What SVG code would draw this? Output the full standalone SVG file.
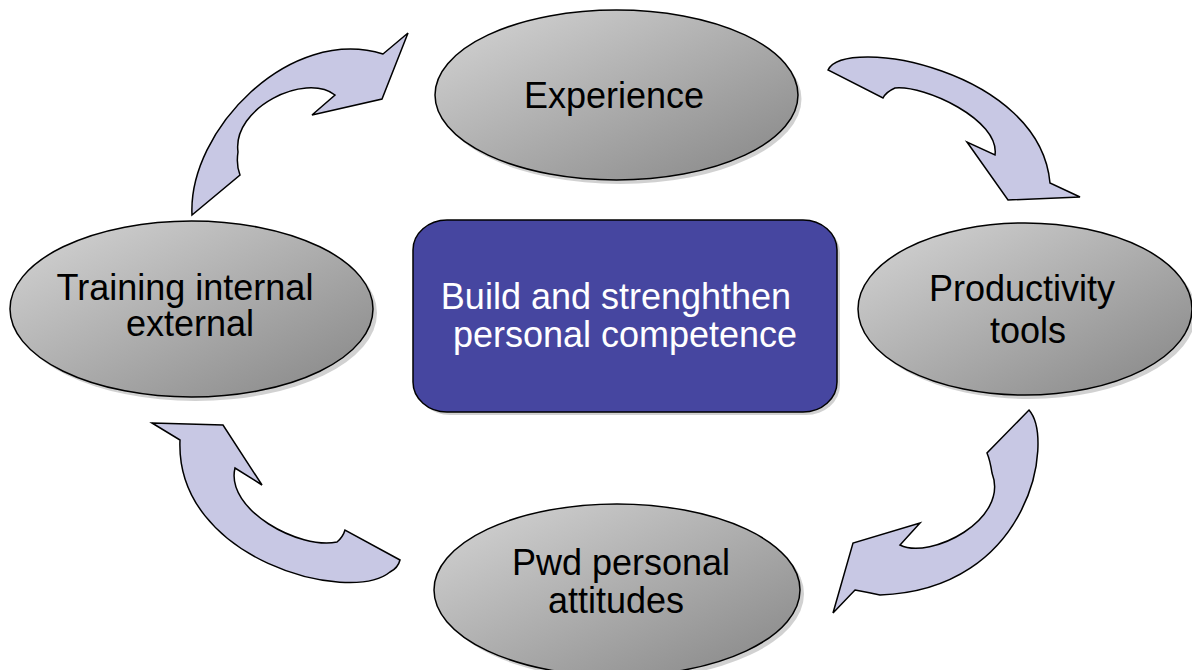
<svg xmlns="http://www.w3.org/2000/svg" width="1192" height="670" viewBox="0 0 1192 670">
<style>
.ell{fill:url(#g);stroke:#000;stroke-width:1.5}
.sh{fill:#9a9a9a;opacity:0.45}
.arr{fill:#c8c8e4;stroke:#000;stroke-width:1.5;stroke-linejoin:miter}
.t{font-family:"Liberation Sans",Arial,sans-serif;font-size:36px;fill:#000;text-anchor:middle}
.w{fill:#fff}
</style>
<defs>
<linearGradient id="g" x1="0" y1="0" x2="1" y2="1">
<stop offset="0" stop-color="#d6d6d6"/>
<stop offset="1" stop-color="#858585"/>
</linearGradient>
</defs>
<rect width="1192" height="670" fill="#fff"/>
<g id="connectors">
<path class="arr" d="M192,215 C188,130 290,25 383,54 L408,33 L382,99 L312,115 L335,95 C305,72 232,108 238,152 Q236,165 240,175 Z"/>
<path class="arr" d="M828,70 C845,35 1040,70 1050,183 L1080,197 L1008,200 L967,142 L995,155 C1000,120 925,85 895,88 Q886,92 883,98 Z"/>
<path class="arr" d="M1029,410 C1055,440 1030,590 880,595 Q866,592 855,590 L833,613 L853,543 L920,523 L900,545 C930,560 1010,520 992,473 Q990,460 987,453 Z"/>
<path class="arr" d="M152,423 L223,425 L262,485 L235,468 C225,510 300,550 337,542 Q343,537 345,530 L400,560 Q398,568 390,572 C350,605 175,560 180,440 Z"/>
</g>
<g id="n-experience">
<ellipse class="sh" cx="620" cy="99" rx="181.5" ry="85"/>
<ellipse class="ell" cx="616.5" cy="95" rx="181.5" ry="85"/>
<text class="t" x="614" y="108">Experience</text>
</g>
<g id="n-productivity">
<ellipse class="sh" cx="1029" cy="313" rx="167" ry="86"/>
<ellipse class="ell" cx="1025" cy="309" rx="167" ry="86"/>
<text class="t" x="1022" y="301">Productivity</text>
<text class="t" x="1028" y="343">tools</text>
</g>
<g id="n-pwd">
<ellipse class="sh" cx="621" cy="594" rx="183" ry="86"/>
<ellipse class="ell" cx="617" cy="590" rx="183" ry="86"/>
<text class="t" x="621" y="575">Pwd personal</text>
<text class="t" x="616" y="613">attitudes</text>
</g>
<g id="n-training">
<ellipse class="sh" cx="195.5" cy="313" rx="181.5" ry="88"/>
<ellipse class="ell" cx="191.5" cy="309" rx="181.5" ry="88"/>
<text class="t" x="185" y="300">Training internal</text>
<text class="t" x="190" y="336">external</text>
</g>
<g id="n-center">
<rect x="416" y="223" width="424" height="192" rx="34" ry="30" fill="#9a9a9a" opacity="0.45"/>
<rect x="413" y="220" width="424" height="192" rx="34" ry="30" fill="#4646a0" stroke="#000" stroke-width="1.5"/>
<text class="t w" x="616" y="309">Build and strenghthen</text>
<text class="t w" x="625" y="347">personal competence</text>
</g>
</svg>
